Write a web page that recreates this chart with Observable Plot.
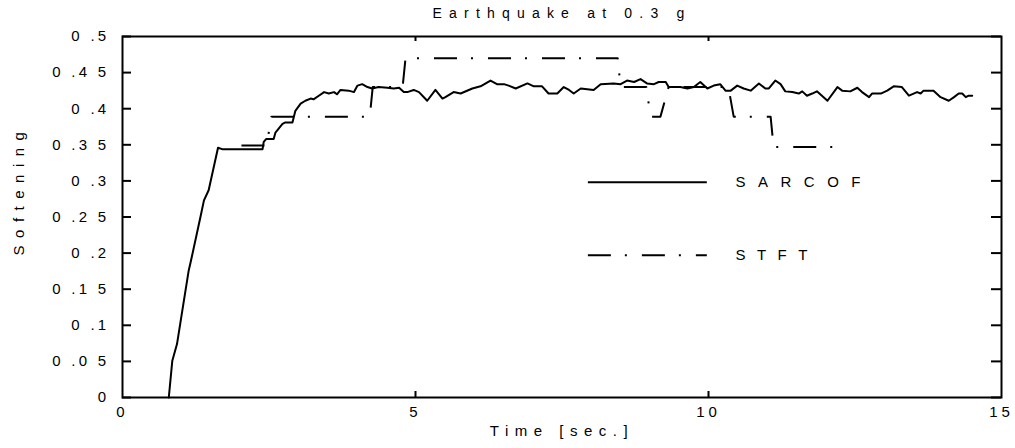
<!DOCTYPE html>
<html>
<head>
<meta charset="utf-8">
<script src="https://cdn.jsdelivr.net/npm/d3@7"></script>
<script src="https://cdn.jsdelivr.net/npm/@observablehq/plot@0.6"></script>
<style>
  html, body { margin: 0; padding: 0; background: #fff; }
  #chart svg { display: block; }
</style>
</head>
<body>
<div id="chart"></div>
<script>
// ---------- data ----------
const title = "Earthquake at 0.3 g";
const xLabel = "Time [sec.]";
const yLabel = "Softening";
const seriesNames = ["SARCOF", "STFT"];
const xTicks = [0, 5, 10, 15];
const yTicks = [0, 0.05, 0.1, 0.15, 0.2, 0.25, 0.3, 0.35, 0.4, 0.45, 0.5];

const sarcofTime = [0.79,0.85,0.93,1.02,1.13,1.17,1.33,1.39,1.47,1.63,1.70,2.39,2.41,2.45,2.58,2.61,2.73,2.78,2.90,2.95,
  3.04,3.12,3.21,3.26,3.35,3.44,3.52,3.61,3.66,3.72,3.86,3.95,4.01,4.09,4.18,4.26,4.37,4.52,4.63,4.72,
  4.80,4.86,4.97,5.06,5.20,5.34,5.46,5.51,5.65,5.77,5.97,6.11,6.28,6.39,6.51,6.59,6.71,6.91,7.02,7.16,
  7.27,7.42,7.53,7.62,7.70,7.82,8.04,8.16,8.38,8.50,8.61,8.73,8.84,8.95,9.07,9.15,9.27,9.32,9.52,9.64,
  9.75,9.86,9.98,10.09,10.20,10.29,10.38,10.49,10.60,10.72,10.86,10.97,11.03,11.14,11.23,11.31,11.43,11.54,11.60,11.68,
  11.77,11.85,12.03,12.20,12.28,12.42,12.54,12.62,12.74,12.79,12.94,13.05,13.16,13.30,13.42,13.56,13.62,13.67,13.84,13.96,
  14.10,14.19,14.27,14.33,14.39,14.44,14.50];
const sarcofValue = [0,0.051,0.074,0.120,0.176,0.190,0.250,0.273,0.287,0.346,0.344,0.344,0.354,0.358,0.358,0.367,0.379,0.381,0.381,0.397,
  0.407,0.411,0.414,0.413,0.418,0.423,0.421,0.423,0.420,0.426,0.425,0.423,0.432,0.434,0.430,0.428,0.430,0.429,0.428,0.429,
  0.423,0.423,0.426,0.423,0.411,0.426,0.414,0.416,0.423,0.421,0.428,0.431,0.439,0.434,0.434,0.432,0.428,0.435,0.431,0.431,
  0.421,0.421,0.430,0.426,0.421,0.428,0.426,0.434,0.435,0.434,0.439,0.437,0.441,0.435,0.434,0.437,0.437,0.430,0.430,0.428,
  0.430,0.437,0.428,0.432,0.434,0.425,0.425,0.432,0.428,0.425,0.435,0.428,0.428,0.439,0.434,0.424,0.423,0.421,0.424,0.418,
  0.421,0.424,0.411,0.430,0.425,0.424,0.429,0.423,0.416,0.421,0.421,0.425,0.431,0.430,0.418,0.423,0.421,0.425,0.425,0.416,
  0.411,0.416,0.421,0.421,0.416,0.418,0.418];

const stftTime  = [2.03,2.46,2.54,4.22,4.27,4.78,4.83,8.45,8.50,8.94,9.01,9.18,9.32,10.34,10.43,11.06,11.11,12.30];
const stftValue = [0.349,0.349,0.389,0.389,0.430,0.430,0.470,0.470,0.430,0.430,0.389,0.389,0.430,0.430,0.389,0.389,0.347,0.347];

const sarcof = sarcofTime.map((t, i) => ({t, v: sarcofValue[i]}));
const stft = stftTime.map((t, i) => ({t, v: stftValue[i]}));

// ---------- formatting ----------
const fmtY = d => {
  if (d === 0) return "0";
  const s = (+d.toFixed(2)).toString();          // e.g. "0.45"
  const [a, b] = s.split(".");
  return a + " ." + b.split("").join(" ");       // "0 .4 5"
};
const fmtX = d => String(d);

const dashDot = "23,14,2,15";
const font = "'Liberation Sans', Arial, Helvetica, sans-serif";

const chart = Plot.plot({
  width: 1015,
  height: 448,
  marginLeft: 122,
  marginRight: 14,
  marginTop: 36,
  marginBottom: 51,
  style: {fontFamily: font, fontSize: "15px", color: "black", background: "white"},
  x: {domain: [0, 15]},
  y: {domain: [0, 0.5]},
  marks: [
    // inward ticks
    Plot.ruleY(yTicks, {stroke: "black", strokeWidth: 2, insetRight: 870}),
    Plot.ruleY(yTicks, {stroke: "black", strokeWidth: 2, insetLeft: 869}),
    Plot.ruleX(xTicks.slice(1, -1), {stroke: "black", strokeWidth: 2, insetTop: 355}),
    Plot.ruleX(xTicks.slice(1, -1), {stroke: "black", strokeWidth: 2, insetBottom: 356}),
    Plot.frame({stroke: "black", strokeWidth: 2}),
    Plot.axisY(yTicks, {tickSize: 0, tickPadding: 13, tickFormat: fmtY, label: null, fontSize: 15}),
    Plot.axisX(xTicks, {tickSize: 0, tickPadding: 9, tickFormat: fmtX, label: null, fontSize: 15}),
    // data
    Plot.line(sarcof, {x: "t", y: "v", stroke: "black", strokeWidth: 2, curve: "linear"}),
    Plot.line(stft, {x: "t", y: "v", stroke: "black", strokeWidth: 2, strokeDasharray: dashDot, strokeLinecap: "butt"}),
    // legend
    Plot.ruleY([0.298], {x1: 7.95, x2: 9.98, stroke: "black", strokeWidth: 2}),
    Plot.ruleY([0.197], {x1: 7.95, x2: 9.98, stroke: "black", strokeWidth: 2, strokeDasharray: dashDot}),
    Plot.text([seriesNames[0]], {x: 10.46, y: 0.298, text: d => d, textAnchor: "start", fontSize: 15}),
    Plot.text([seriesNames[1]], {x: 10.46, y: 0.197, text: d => d, textAnchor: "start", fontSize: 15}),
    // titles
    Plot.text([title], {frameAnchor: "top", dy: -23, lineAnchor: "middle", textAnchor: "middle", fontSize: 14, text: d => d}),
    Plot.text([xLabel], {frameAnchor: "bottom", dy: 34, lineAnchor: "middle", textAnchor: "middle", fontSize: 15, text: d => d}),
    Plot.text([yLabel], {frameAnchor: "left", dx: -103, dy: -27, rotate: -90, lineAnchor: "middle", textAnchor: "middle", fontSize: 15, text: d => d})
  ]
});

document.getElementById("chart").appendChild(chart);

// letter spacing to match the spaced-out typography
const spacing = new Map([[title, 7.2], [xLabel, 6.5], [yLabel, 7.5], [seriesNames[0], 12.5], [seriesNames[1], 11.5]]);
d3.select(chart).selectAll("text").each(function() {
  const t = this.textContent;
  if (spacing.has(t)) d3.select(this).attr("letter-spacing", spacing.get(t));
  else d3.select(this).attr("letter-spacing", 3.3);
});
d3.select(chart).selectAll('g[aria-label="x-axis tick label"] text').attr("letter-spacing", 4);
</script>
</body>
</html>
